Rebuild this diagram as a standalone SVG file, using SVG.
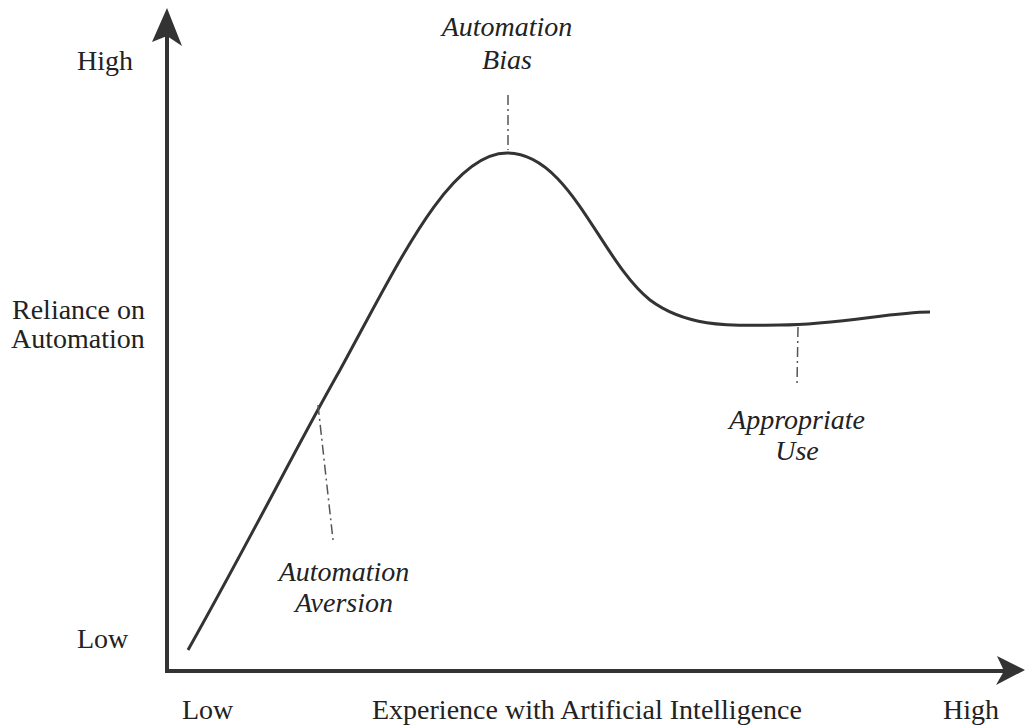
<svg xmlns="http://www.w3.org/2000/svg" width="1026" height="725" viewBox="0 0 1026 725">
<style>
text{font-family:"Liberation Serif","Times New Roman",serif;font-size:28px;fill:#222}
.it{font-style:italic;text-anchor:middle}
.axis{stroke:#333;stroke-width:4;fill:none}
.curve{stroke:#333;stroke-width:3;fill:none}
.lead{stroke:#555;stroke-width:1.5;fill:none;stroke-dasharray:10 4 2 4}
</style>
<rect width="1026" height="725" fill="#fff"/>
<g id="axes">
<line class="axis" x1="167" y1="672" x2="167" y2="30"/>
<line class="axis" x1="165" y1="671" x2="1005" y2="671"/>
<path d="M167,8 L182,46 L167,36 L152,42 Z" fill="#333"/>
<path d="M1025,670 L996,685 L1004,671 L997,656 Z" fill="#333"/>
</g>
<g id="labels">
<text x="77" y="70">High</text>
<text x="12" y="319">Reliance on</text>
<text x="11" y="348">Automation</text>
<text x="77" y="648">Low</text>
<text x="182" y="719">Low</text>
<text x="372" y="719">Experience with Artificial Intelligence</text>
<text x="943" y="719">High</text>
</g>
<g id="curve">
<path class="curve" d="M188,650 C250,540 300,440 340,370 C400,260 450,153 507,153 C570,153 600,260 650,300 C690,330 740,325 780,325 C840,325 890,312 930,312"/>
</g>
<g id="connectors">
<line class="lead" x1="508" y1="95" x2="508" y2="150"/>
<line class="lead" x1="318" y1="405" x2="333" y2="540"/>
<line class="lead" x1="798" y1="327" x2="797" y2="385"/>
</g>
<g id="bias"><text class="it" x="507" y="36">Automation</text><text class="it" x="507" y="69">Bias</text></g>
<g id="aversion"><text class="it" x="344" y="581">Automation</text><text class="it" x="344" y="612">Aversion</text></g>
<g id="appropriate"><text class="it" x="797" y="429">Appropriate</text><text class="it" x="797" y="460">Use</text></g>
</svg>
